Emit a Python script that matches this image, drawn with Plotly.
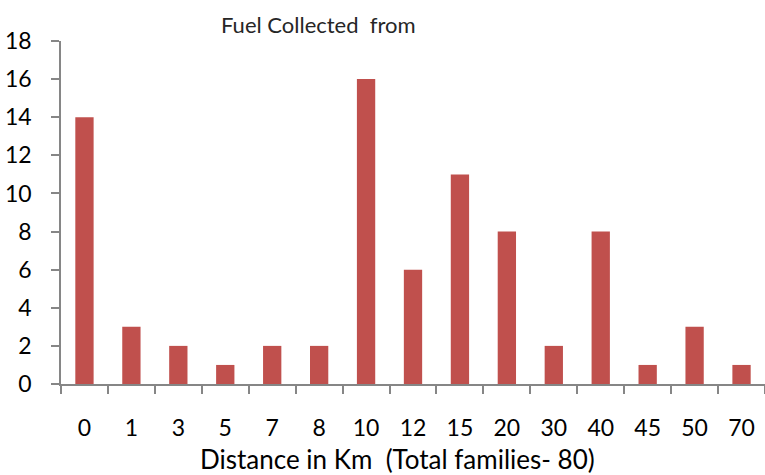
import plotly.graph_objects as go

# Distance travelled to collect fuel, and number of families per distance
distances = ["0", "1", "3", "5", "7", "8", "10", "12", "15", "20", "30", "40", "45", "50", "70"]
families = [14, 3, 2, 1, 2, 2, 16, 6, 11, 8, 2, 8, 1, 3, 1]
y_ticks = [0, 2, 4, 6, 8, 10, 12, 14, 16, 18]

bar_color = "#C0504D"
axis_color = "#868686"
font_family = "Lato, 'Noto Sans', sans-serif"

# plot area in pixels (used to place the free-floating texts)
L, T, W, H = 61, 41, 704, 343

fig = go.Figure(
    go.Bar(
        x=distances,
        y=families,
        marker=dict(color=bar_color, line=dict(width=0)),
    )
)

fig.update_layout(
    width=765,
    height=475,
    margin=dict(l=L, r=765 - L - W, t=T, b=475 - T - H),
    paper_bgcolor="white",
    plot_bgcolor="white",
    bargap=0.61,
    showlegend=False,
    font=dict(family=font_family, color="black"),
)

# chart heading
fig.add_annotation(
    text="Fuel Collected  from",
    xref="paper", yref="paper",
    x=(219 - L) / W, y=1 + (T - 24) / H,
    xanchor="left", yanchor="middle",
    showarrow=False,
    font=dict(family=font_family, size=22, color="#262626"),
)

# x-axis caption
fig.add_annotation(
    text="Distance in Km  (Total families- 80)",
    xref="paper", yref="paper",
    x=(397 - L) / W, y=-(459 - (T + H)) / H,
    xanchor="center", yanchor="middle",
    showarrow=False, borderpad=0,
    font=dict(family=font_family, size=26, color="black"),
)

fig.update_xaxes(
    type="category",
    range=[-0.5, 14.5],
    showline=True,
    linecolor=axis_color,
    linewidth=1.5,
    ticks="outside",
    tickson="boundaries",
    ticklen=8,
    tickcolor=axis_color,
    tickwidth=1.5,
    ticklabelstandoff=23,
    tickfont=dict(size=23, family=font_family, color="black"),
    showgrid=False,
    zeroline=False,
)

fig.update_yaxes(
    range=[0, 18],
    tickvals=y_ticks,
    showline=True,
    linecolor=axis_color,
    linewidth=1.5,
    ticks="outside",
    ticklen=8,
    tickcolor=axis_color,
    tickwidth=1.5,
    ticklabelstandoff=15,
    tickfont=dict(size=23, family=font_family, color="black"),
    showgrid=False,
    zeroline=False,
)

fig.write_html("out.html")
